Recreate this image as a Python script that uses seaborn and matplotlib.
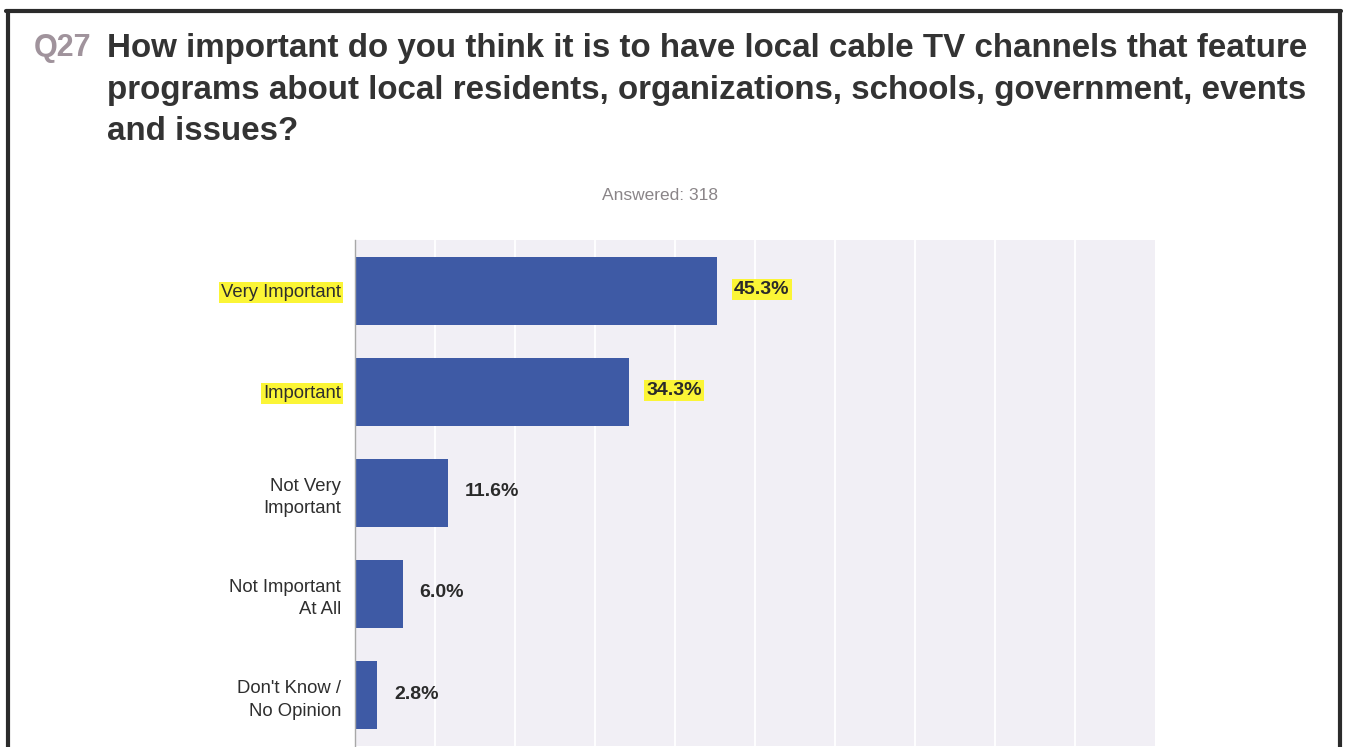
import matplotlib
matplotlib.use("Agg")
import matplotlib.pyplot as plt
import seaborn as sns
import pandas as pd
from matplotlib.lines import Line2D

# Survey responses for Q27
categories = ["Very Important", "Important", "Not Very\nImportant",
              "Not Important\nAt All", "Don't Know /\nNo Opinion"]
percentages = [45.3, 34.3, 11.6, 6.0, 2.8]
highlighted = [True, True, False, False, False]
answered = 318

question_no = "Q27"
question_lines = [
    "How important do you think it is to have local cable TV channels that feature",
    "programs about local residents, organizations, schools, government, events",
    "and issues?",
]

sns.set_theme(style="white")
plt.rcParams["font.family"] = ["Liberation Sans", "DejaVu Sans"]

df = pd.DataFrame({"category": categories, "pct": percentages})

W, H = 1346, 747
fig = plt.figure(figsize=(W / 100, H / 100), dpi=100)
fig.patch.set_facecolor("white")

ax = fig.add_axes([355 / W, 1 - 746 / H, 800 / W, 506 / H])
ax.set_facecolor("#f1eff5")

sns.barplot(data=df, x="pct", y="category", orient="h", color="#3e5aa5",
            saturation=1, width=0.67, linewidth=0, ax=ax)

ax.set_xlim(0, 100)
ax.set_xticks(range(10, 100, 10))
ax.xaxis.grid(True, color="white", linewidth=1.3)
ax.yaxis.grid(False)
ax.set_axisbelow(True)
ax.set_xticklabels([])
ax.tick_params(axis="both", length=0)
ax.tick_params(axis="y", pad=10)
ax.set_xlabel("")
ax.set_ylabel("")
for s in ["top", "right", "bottom"]:
    ax.spines[s].set_visible(False)
ax.spines["left"].set_color("#a8a8a8")
ax.spines["left"].set_linewidth(1.0)

hl = dict(facecolor="#fbf536", edgecolor="none", pad=1.5)
for lbl, h in zip(ax.get_yticklabels(), highlighted):
    lbl.set_fontsize(13.3)
    lbl.set_color("#2e2e2e")
    lbl.set_multialignment("right")
    lbl.set_linespacing(1.4)
    if h:
        lbl.set_bbox(hl)

for i, (v, h) in enumerate(zip(percentages, highlighted)):
    ax.annotate(f"{v:.1f}%", xy=(v, i), xytext=(12, 1), textcoords="offset points",
                ha="left", va="center", fontsize=14, fontweight="bold",
                color="#2a2a2a", bbox=hl if h else None)

# Question title
fig.text(34 / W, 1 - 48 / H, question_no, fontsize=22, fontweight="bold",
         color="#a0939c", va="center", ha="left")
for k, line in enumerate(question_lines):
    fig.text(107 / W, 1 - (48 + 42 * k) / H, line, fontsize=23.9,
             fontweight="bold", color="#333333", va="center", ha="left")

fig.text(660 / W, 1 - 195 / H, f"Answered: {answered}", fontsize=12.5,
         color="#8a8588", ha="center", va="center")

# Page frame
frame = dict(color="#2b2b2b", linewidth=3, transform=fig.transFigure)
fig.add_artist(Line2D([6 / W, 1341 / W], [1 - 11 / H, 1 - 11 / H], **frame))
fig.add_artist(Line2D([8 / W, 8 / W], [0, 1 - 11 / H], **frame))
fig.add_artist(Line2D([1340 / W, 1340 / W], [0, 1 - 11 / H], **frame))

fig.savefig("out.png", dpi=100, facecolor="white")
